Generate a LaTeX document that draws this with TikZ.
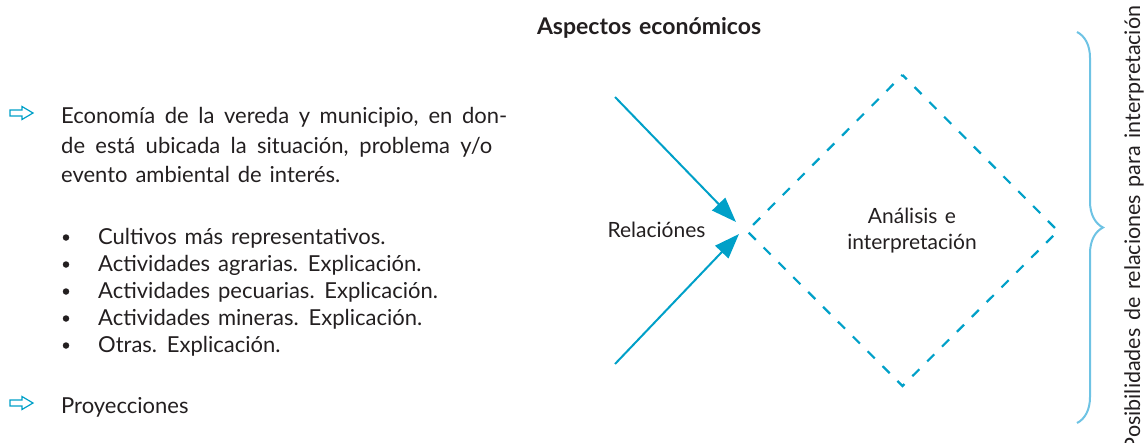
\documentclass[tikz,border=0pt]{standalone}
\usepackage{fontspec}
\setmainfont{Lato}[WordSpace=1.4]
\usetikzlibrary{arrows.meta,decorations.pathreplacing}
\definecolor{cy}{RGB}{0,160,200}
\definecolor{lcy}{RGB}{110,195,228}
\definecolor{ink}{RGB}{35,31,32}
\begin{document}
\begin{tikzpicture}[x=1pt,y=-1pt,
  txt/.style={anchor=base west,inner sep=0pt,font=\fontsize{22}{29}\selectfont,text=ink},
  bul/.style={circle,fill=ink,inner sep=0pt,minimum size=6.5pt},
  conn/.style={draw=cy,line width=2pt,-{Triangle[length=25pt,width=18pt]}},
  small/.style={font=\fontsize{21}{26}\selectfont,text=ink,align=center,inner sep=0pt},
  hollow/.style={draw=cy,line width=1.2pt,line join=miter}]
\useasboundingbox (0,0) rectangle (1145,442);
% title
\node[anchor=base,inner sep=0pt,font=\bfseries\fontsize{23}{26}\selectfont,text=ink] (title) at (649,34) {Aspectos económicos};
% hollow arrows
\coordinate (a1) at (10,113);
\coordinate (a2) at (10,403);
\foreach \c in {a1,a2}{
  \draw[hollow] ([shift={(0,-3)}]\c) -- ++(12,0) -- ++(0,-3.5) -- ++(11,6.5) -- ++(-11,6.5) -- ++(0,-3.5) -- ++(-12,0) -- cycle;
}
% paragraph
\node[txt] (t1) at (61,123) {\makebox[446pt][s]{Economía de la vereda y municipio, en don-}};
\node[txt] (t2) at (61,153) {\makebox[431pt][s]{de está ubicada la situación, problema y/o}};
\node[txt] (t3) at (61,182) {evento ambiental de interés.};
\foreach \y/\t [count=\i] in {244/Cultivos más representativos.,271/Actividades agrarias. Explicación.,298/Actividades pecuarias. Explicación.,325/Actividades mineras. Explicación.,352/Otras. Explicación.}{
  \node[bul] (b\i) at (66,\y-6.5) {};
  \node[txt] (l\i) at (98,\y) {\t};
}
\node[txt] (t4) at (61,413) {Proyecciones};
% diamond
\coordinate (L) at (747,231);
\coordinate (T) at (902.5,75);
\coordinate (R) at (1058,231);
\coordinate (B) at (902.5,386);
\draw[cy,line width=2.2pt,dash pattern=on 10pt off 11pt,dash phase=4pt] (T) -- (R) -- (B) -- (L) -- cycle;
% arrows
\coordinate (s1) at (615,97);
\coordinate (e1) at (736,222);
\coordinate (s2) at (615,364);
\coordinate (e2) at (739,234);
\draw[conn] (s1) -- (e1);
\draw[conn] (s2) -- (e2);
\node[small,anchor=base] (rel) at (656.5,237) {Relaciónes};
\node[small] (an) at (912,231) {Análisis e\\interpretación};
% brace
\coordinate (bt) at (1077,32);
\coordinate (bb) at (1077,423);
\draw[lcy,line width=2pt,decorate,decoration={brace,amplitude=26pt}] (bt) -- (bb);
\node[rotate=90,anchor=base,inner sep=0pt,font=\fontsize{21.5}{24}\selectfont,text=ink] (side) at (1140,228) {Posibilidades de relaciones para interpretación};
\end{tikzpicture}
\end{document}
